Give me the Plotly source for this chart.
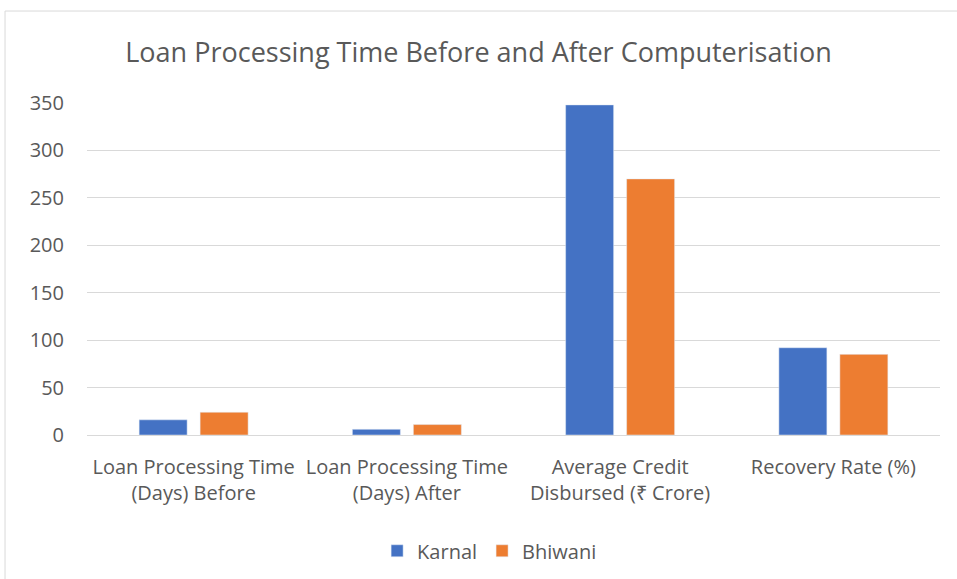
import plotly.graph_objects as go

categories = ["Loan Processing Time<br>(Days) Before", "Loan Processing Time<br>(Days) After",
              "Average Credit<br>Disbursed (₹ Crore)", "Recovery Rate (%)"]
karnal = [16, 6, 348, 92]
bhiwani = [24, 11, 270, 85]
y_ticks = [0, 50, 100, 150, 200, 250, 300, 350]

FONT = "Open Sans"
fig = go.Figure()
fig.add_trace(go.Bar(name="Karnal", x=categories, y=karnal, marker=dict(color="#4472C4")))
fig.add_trace(go.Bar(name="Bhiwani", x=categories, y=bhiwani, marker=dict(color="#ED7D31")))

fig.update_layout(
    width=957, height=579,
    margin=dict(l=87, r=17, t=103, b=144, autoexpand=False),
    paper_bgcolor="white", plot_bgcolor="white",
    barmode="group", bargap=0.428, bargroupgap=0.213,
    title=dict(text="Loan Processing Time Before and After Computerisation",
               x=0.5, xanchor="center", y=0.91, yanchor="middle",
               font=dict(family=FONT, size=27, color="#595959")),
    font=dict(family=FONT, size=20, color="#595959"),
    showlegend=True,
    legend=dict(orientation="h", x=0.472, xanchor="center", y=-0.29, yanchor="top",
                itemwidth=30,
                font=dict(family=FONT, size=20, color="#595959")),
    shapes=[dict(type="rect", xref="paper", yref="paper", x0=-0.0961, x1=1.03, y0=-0.5, y1=1.277,
                 line=dict(color="#d9d9d9", width=1), fillcolor="rgba(0,0,0,0)", layer="below")]
)
fig.update_yaxes(range=[0, 350], tickvals=y_ticks, gridcolor="#d9d9d9", gridwidth=1,
                 zeroline=False, showline=False, ticks="", ticklabelstandoff=22,
                 automargin=False, tickfont=dict(size=20, color="#595959"))
fig.update_xaxes(showline=True, linecolor="#d9d9d9", linewidth=1, ticks="",
                 ticklabelstandoff=14, automargin=False,
                 tickfont=dict(size=20, color="#595959"), tickangle=0)
fig.write_html("out.html", config={"displayModeBar": False},
               post_script="document.body.style.margin='0';")
